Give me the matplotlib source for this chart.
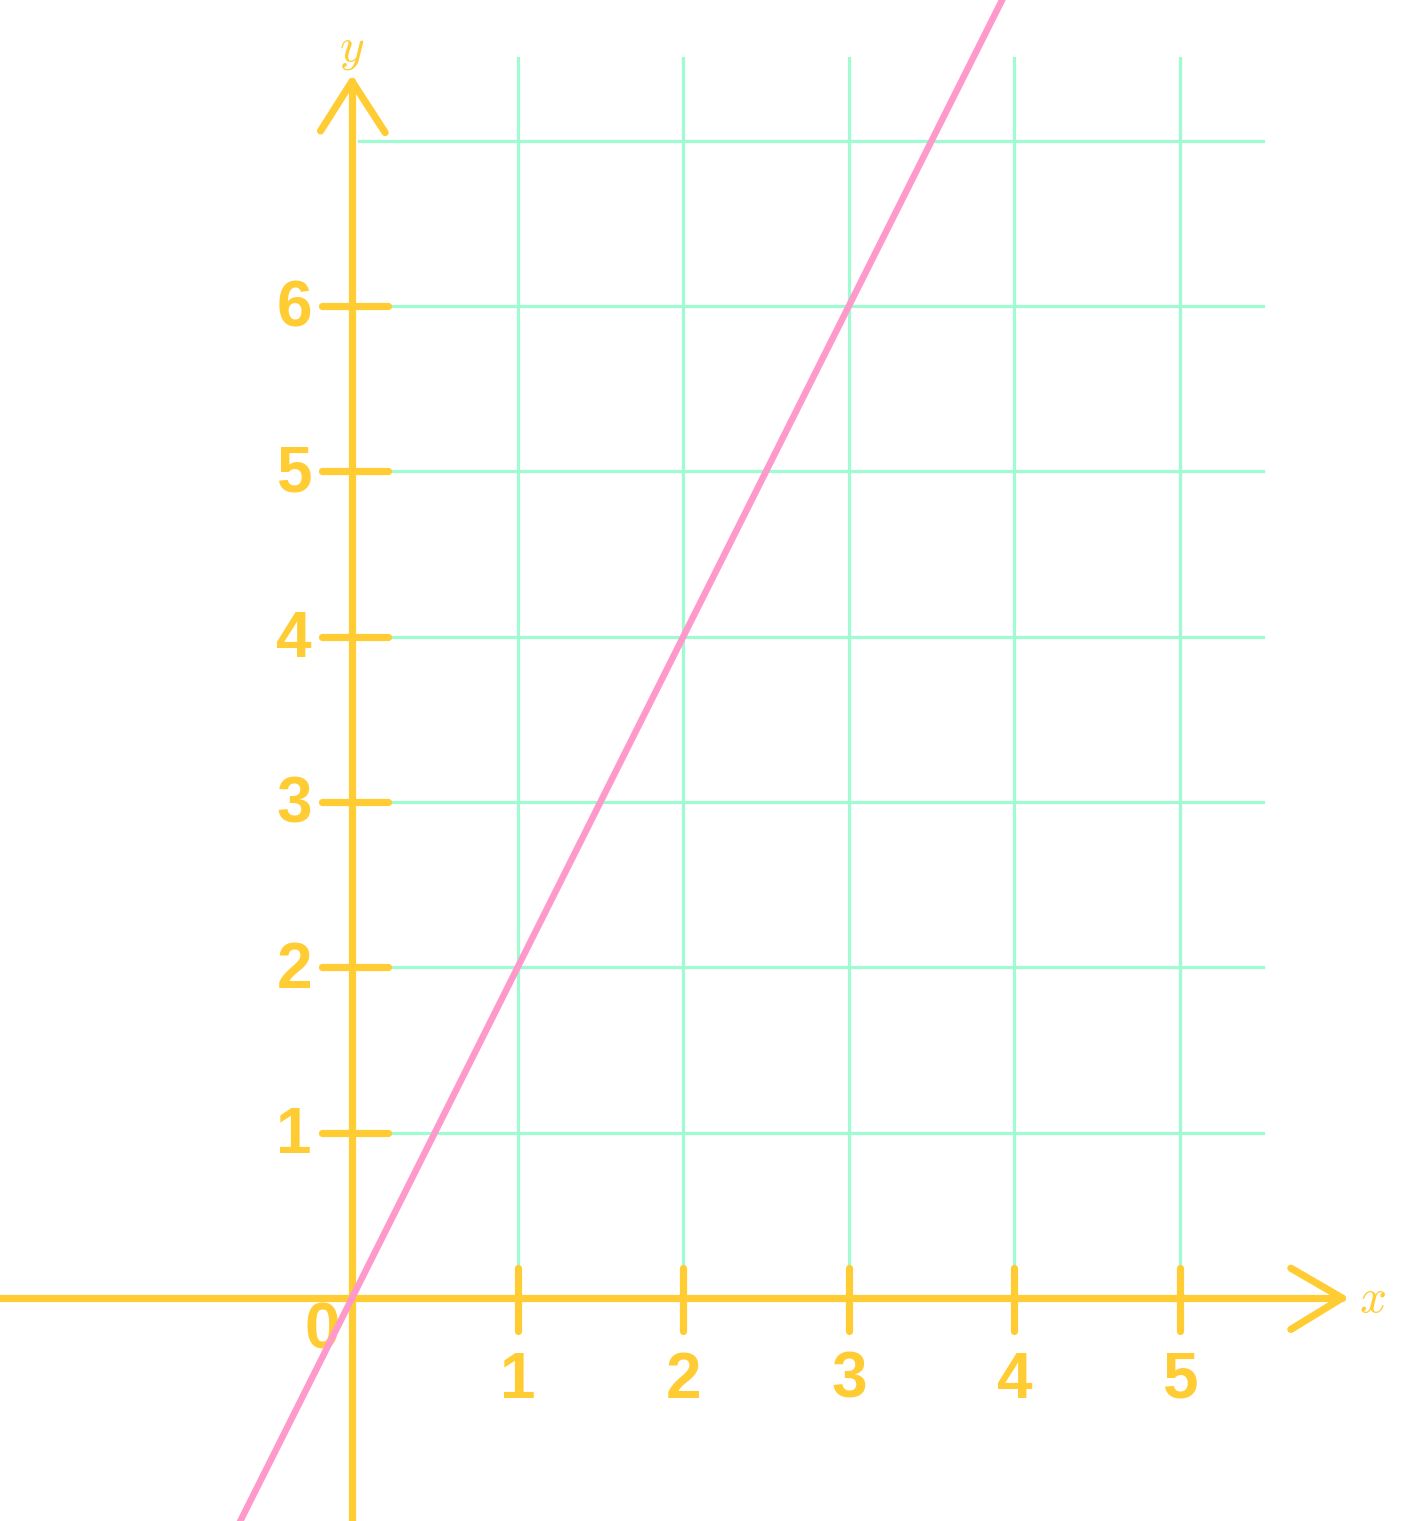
import matplotlib
matplotlib.use("Agg")
import matplotlib.pyplot as plt

# values
x_ticks = [1, 2, 3, 4, 5]
y_ticks = [1, 2, 3, 4, 5, 6]
grid_rows = [1, 2, 3, 4, 5, 6, 7]
line_x = [-1.0, 4.0]
line_y = [-2.0, 8.0]

YELLOW = "#ffcc33"
PINK = "#ff99cc"
MINT = "#a0fcd0"

plt.rcParams["mathtext.fontset"] = "cm"

fig = plt.figure(figsize=(14.26, 15.21), dpi=100)
ax = fig.add_axes([0, 0, 1, 1])
ax.set_xlim(-2.126, 6.486)
ax.set_ylim(-1.349, 7.852)
ax.axis("off")

# grid
for xv in x_ticks:
    ax.plot([xv, xv], [0, 7.5], color=MINT, lw=2.3, zorder=1)
for yv in grid_rows:
    ax.plot([0.04, 5.5], [yv, yv], color=MINT, lw=2.3, zorder=1)

# axes with chevron arrows
axis_kw = dict(color=YELLOW, lw=5.2, solid_capstyle="round", solid_joinstyle="round", zorder=3)
ax.plot([-2.2, 5.98], [0, 0], **axis_kw)
ax.plot([0, 0], [-1.4, 7.36], **axis_kw)
ax.plot([5.67, 5.98, 5.67], [0.18, 0, -0.19], **axis_kw)
ax.plot([-0.19, 0, 0.2], [7.06, 7.36, 7.05], **axis_kw)

label_kw = dict(color=YELLOW, fontsize=46, fontweight="bold", family="Liberation Sans",
                ha="center", va="center", zorder=4)

# ticks
for xv in x_ticks:
    ax.plot([xv, xv], [0.18, -0.2], **axis_kw)
    ax.text(xv, -0.5, str(xv), **label_kw)
for yv in y_ticks:
    ax.plot([-0.18, 0.22], [yv, yv], **axis_kw)
    ax.text(-0.35, yv - 0.02, str(yv), **label_kw)
ax.text(-0.18, -0.2, "0", **label_kw)

# axis names
ax.text(6.16, -0.01, r"$x$", color=YELLOW, fontsize=34, ha="center", va="center")
ax.text(0.0, 7.55, r"$y$", color=YELLOW, fontsize=34, ha="center", va="center")

# the line
ax.plot(line_x, line_y, color=PINK, lw=4.7, zorder=5)

fig.savefig("out.png", dpi=100)
